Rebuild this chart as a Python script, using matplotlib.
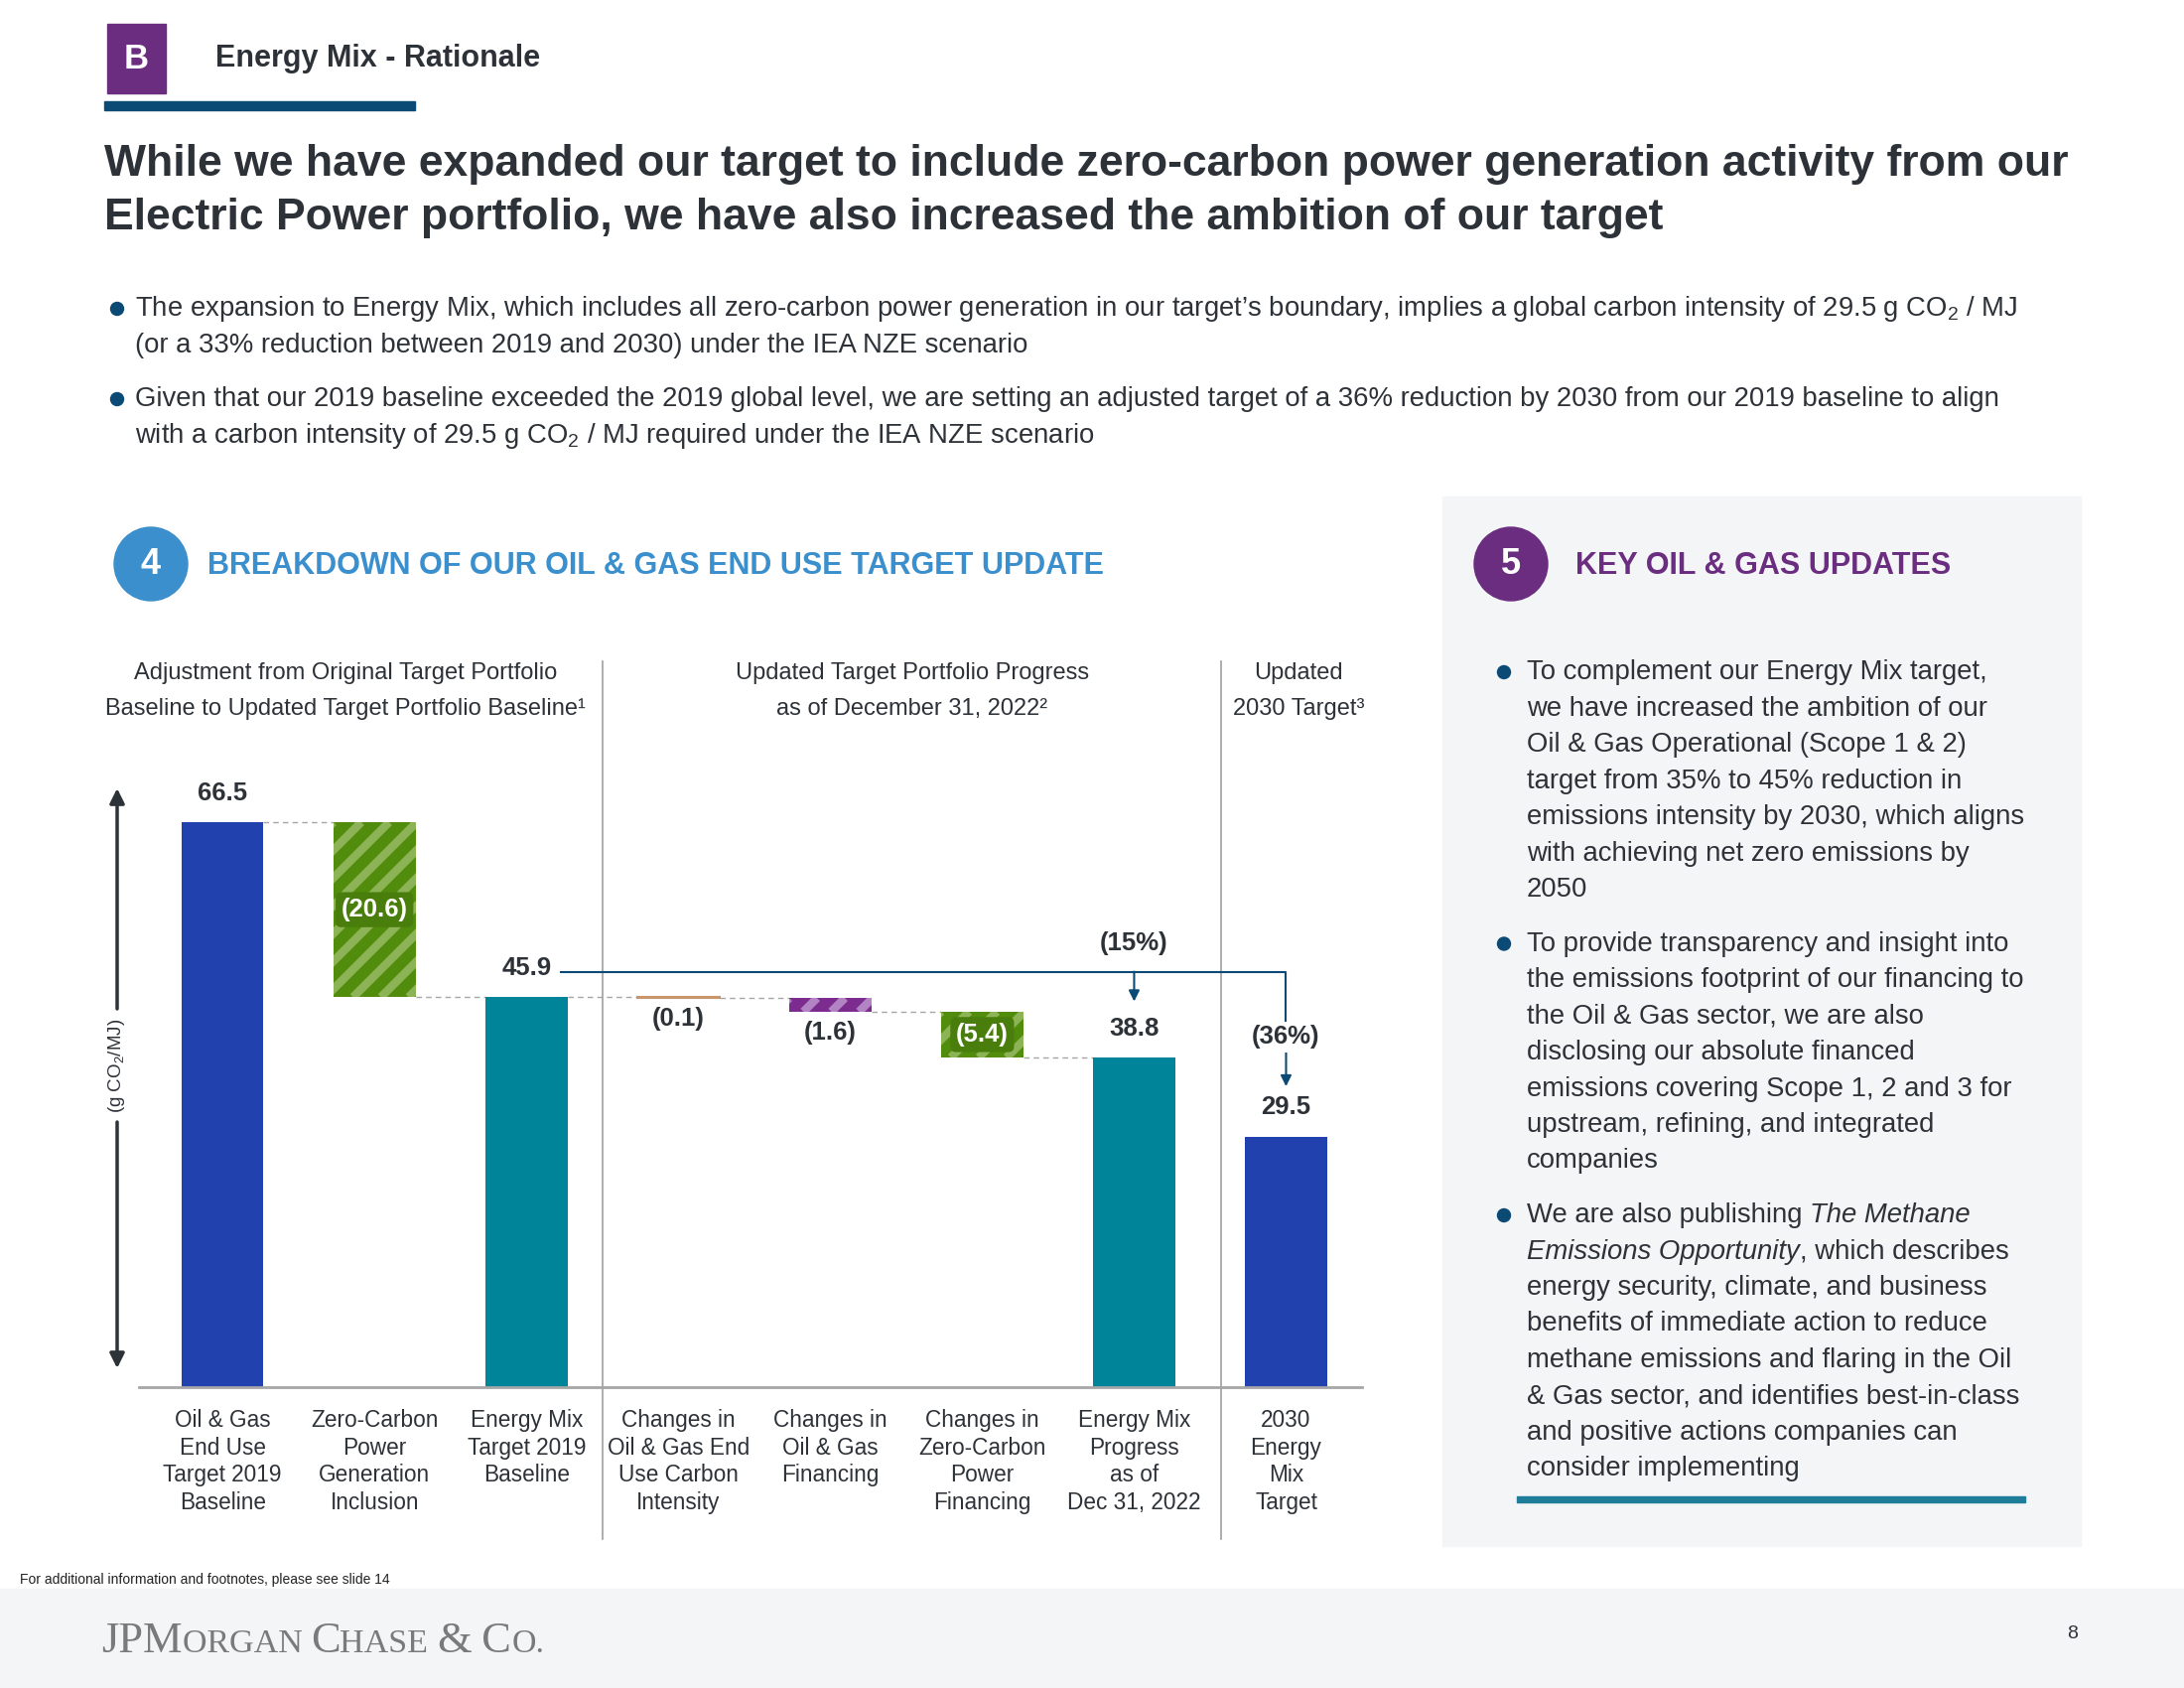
import numpy as np
import matplotlib
matplotlib.use('Agg')
import matplotlib.pyplot as plt
from matplotlib.patches import Rectangle, Circle

plt.rcParams['font.family'] = ['Liberation Sans', 'DejaVu Sans']
plt.rcParams['mathtext.fontset'] = 'custom'
plt.rcParams['mathtext.rm'] = 'Liberation Sans'
plt.rcParams['mathtext.it'] = 'Liberation Sans:italic'
plt.rcParams['mathtext.bf'] = 'Liberation Sans:bold'

# ---- data ----
categories = ['Oil & Gas\nEnd Use\nTarget 2019\nBaseline',
              'Zero-Carbon\nPower\nGeneration\nInclusion',
              'Energy Mix\nTarget 2019\nBaseline',
              'Changes in\nOil & Gas End\nUse Carbon\nIntensity',
              'Changes in\nOil & Gas\nFinancing',
              'Changes in\nZero-Carbon\nPower\nFinancing',
              'Energy Mix\nProgress\nas of\nDec 31, 2022',
              '2030\nEnergy\nMix\nTarget']
values = [66.5, -20.6, 45.9, -0.1, -1.6, -5.4, 38.8, 29.5]
kinds = ['total', 'delta', 'total', 'delta', 'delta', 'delta', 'total', 'total']
value_labels = ['66.5', '(20.6)', '45.9', '(0.1)', '(1.6)', '(5.4)', '38.8', '29.5']
progress_pct = '(15%)'
target_pct = '(36%)'
group_titles = [['Adjustment from Original Target Portfolio',
                 'Baseline to Updated Target Portfolio Baseline\u00b9'],
                ['Updated Target Portfolio Progress',
                 'as of December 31, 2022\u00b2'],
                ['Updated', '2030 Target\u00b3']]
left_bullets = [
    ['The expansion to Energy Mix, which includes all zero-carbon power generation in our target\u2019s boundary, implies a global carbon intensity of 29.5 g CO$_2$ / MJ',
     '(or a 33% reduction between 2019 and 2030) under the IEA NZE scenario'],
    ['Given that our 2019 baseline exceeded the 2019 global level, we are setting an adjusted target of a 36% reduction by 2030 from our 2019 baseline to align',
     'with a carbon intensity of 29.5 g CO$_2$ / MJ required under the IEA NZE scenario'],
]
right_bullets = [
    ['To complement our Energy Mix target,',
     'we have increased the ambition of our',
     'Oil & Gas Operational (Scope 1 & 2)',
     'target from 35% to 45% reduction in',
     'emissions intensity by 2030, which aligns',
     'with achieving net zero emissions by',
     '2050'],
    ['To provide transparency and insight into',
     'the emissions footprint of our financing to',
     'the Oil & Gas sector, we are also',
     'disclosing our absolute financed',
     'emissions covering Scope 1, 2 and 3 for',
     'upstream, refining, and integrated',
     'companies'],
    [[('We are also publishing ', 'normal'), ('The Methane', 'italic')],
     [('Emissions Opportunity', 'italic'), (', which describes', 'normal')],
     'energy security, climate, and business',
     'benefits of immediate action to reduce',
     'methane emissions and flaring in the Oil',
     '& Gas sector, and identifies best-in-class',
     'and positive actions companies can',
     'consider implementing'],
]

# ---- styles ----
DARK = '#2d3238'
NAVY = '#0b4a75'
BLUE = '#2141ae'
TEAL = '#00849a'
GREEN = '#528c0c'
GREEN_L = '#8cb356'
PURPLE = '#6b2d7f'
SKY = '#3a8fcc'
bar_face = [BLUE, GREEN, TEAL, '#c9956b', '#7b2c8e', GREEN, TEAL, BLUE]
bar_stripe = [None, GREEN_L, None, None, '#b384c3', GREEN_L, None, None]

W, H = 2200, 1700
fig = plt.figure(figsize=(22, 17), dpi=100)
bg = fig.add_axes([0, 0, 1, 1], zorder=0)
bg.set_xlim(0, W)
bg.set_ylim(H, 0)
bg.axis('off')
renderer = fig.canvas.get_renderer()


def runs(x, y, parts, **kw):
    # draw text pieces one after another on one line
    for txt, style in parts:
        t = bg.text(x, y, txt, style=style, va='center', ha='left', **kw)
        x += t.get_window_extent(renderer).width


# header
bg.add_patch(Rectangle((108, 24), 59, 70, color=PURPLE))
bg.text(137.5, 59, 'B', color='white', fontsize=25, fontweight='bold', ha='center', va='center')
bg.text(217, 59, 'Energy Mix - Rationale', color=DARK, fontsize=22, fontweight='bold', va='center')
bg.add_patch(Rectangle((105, 102), 313, 9, color=NAVY))
bg.text(105, 165, 'While we have expanded our target to include zero-carbon power generation activity from our',
        color=DARK, fontsize=32, fontweight='bold', va='center')
bg.text(105, 219, 'Electric Power portfolio, we have also increased the ambition of our target',
        color=DARK, fontsize=32, fontweight='bold', va='center')

y = 311
for b in left_bullets:
    bg.add_patch(Circle((118, y), 6.5, color=NAVY))
    for line in b:
        bg.text(136, y, line, color=DARK, fontsize=19.8, va='center')
        y += 37
    y += 17

# section titles
bg.add_patch(Circle((152, 568), 37, color=SKY))
bg.text(152, 568, '4', color='white', fontsize=26, fontweight='bold', ha='center', va='center')
bg.text(209, 570, 'BREAKDOWN OF OUR OIL & GAS END USE TARGET UPDATE', color=SKY,
        fontsize=22, fontweight='bold', va='center')

bg.add_patch(Rectangle((1453, 500), 643, 1057, color='#f4f5f7'))
bg.add_patch(Circle((1522, 568), 37, color=PURPLE))
bg.text(1522, 568, '5', color='white', fontsize=26, fontweight='bold', ha='center', va='center')
bg.text(1587, 570, 'KEY OIL & GAS UPDATES', color=PURPLE, fontsize=22, fontweight='bold', va='center')

y = 677
for b in right_bullets:
    bg.add_patch(Circle((1515, y), 6.5, color=NAVY))
    for line in b:
        if isinstance(line, list):
            runs(1538, y, line, color=DARK, fontsize=19.8)
        else:
            bg.text(1538, y, line, color=DARK, fontsize=19.8, va='center')
        y += 36.5
    y += 18
bg.add_patch(Rectangle((1528, 1507), 512, 6, color='#1f7d9a'))

# group headers over the chart
for (l1, l2), cx in zip(group_titles, [348, 919, 1308]):
    bg.text(cx, 678, l1, color=DARK, fontsize=17, ha='center', va='center')
    bg.text(cx, 714, l2, color=DARK, fontsize=17, ha='center', va='center')

# y axis arrow
arrow_kw = dict(arrowstyle='-|>', color=DARK, lw=2.5, mutation_scale=22, shrinkA=0, shrinkB=0)
bg.annotate('', xy=(118, 794), xytext=(118, 1016), arrowprops=arrow_kw)
bg.annotate('', xy=(118, 1378), xytext=(118, 1130), arrowprops=arrow_kw)
bg.text(118, 1073, '(g CO$_2$/MJ)', rotation=90, color=DARK, fontsize=13.5,
        ha='center', va='center')

# footer
bg.text(20, 1591, 'For additional information and footnotes, please see slide 14',
        color='#222222', fontsize=10, va='center')
bg.add_patch(Rectangle((0, 1600), W, 100, color='#f4f5f7'))
x = 102
for txt, sz in [('JPM', 32), ('ORGAN ', 24.5), ('C', 32), ('HASE ', 24.5), ('&', 32), (' C', 32), ('O.', 24.5)]:
    t = bg.text(x, 1664, txt, family='Liberation Serif', fontsize=sz, color='#7a7a7a', va='baseline')
    x += t.get_window_extent(renderer).width
bg.text(2088, 1646, '8', color=DARK, fontsize=14, ha='center', va='center')

# ---- waterfall chart ----
ax_left, ax_bot = 140 / W, 1 - 1397 / H
ax_w, ax_h = 1232 / W, 697 / H
ax = fig.add_axes([ax_left, ax_bot, ax_w, ax_h], zorder=1)
ax.patch.set_alpha(0)
xlim = (-0.55, 7.5)
ylim = (0, 697 / 8.556)
ax.set_xlim(*xlim)
ax.set_ylim(*ylim)
for s in ['top', 'right', 'left']:
    ax.spines[s].set_visible(False)
ax.spines['bottom'].set_color('#a6a6a6')
ax.spines['bottom'].set_linewidth(2)
ax.set_yticks([])

bottoms, heights = [], []
level = 0
for v, k in zip(values, kinds):
    if k == 'total':
        bottoms.append(0)
        heights.append(v)
        level = v
    else:
        level += v
        bottoms.append(level)
        heights.append(-v)

xs = np.arange(len(values))
bw = 0.54
bars = ax.bar(xs, heights, bottom=bottoms, width=bw, color=bar_face, zorder=2)
bars[3].set_edgecolor(bar_face[3])
bars[3].set_linewidth(1.5)

# diagonal stripes clipped to bars
px_x = W * ax_w / (xlim[1] - xlim[0])
px_y = H * ax_h / (ylim[1] - ylim[0])
k = px_x / px_y
period = 28 / px_x
for b, sc in zip(bars, bar_stripe):
    if sc is None:
        continue
    x0, y0, w, h = b.get_x(), b.get_y(), b.get_width(), b.get_height()
    span = h / k
    for c in np.arange(x0 - span - period, x0 + w + period, period):
        ln, = ax.plot([c, c + span], [y0, y0 + h], color=sc, lw=6, zorder=3,
                      solid_capstyle='butt')
        ln.set_clip_path(b)

# dashed connectors
for i in range(6):
    lv = heights[i] if kinds[i] == 'total' else bottoms[i]
    ax.plot([i + bw / 2, i + 1 - bw / 2], [lv, lv], color='#a6a6a6', lw=1,
            ls=(0, (4, 3)), zorder=1)

# value labels
FS = 18.5
for i, (lab, k_) in enumerate(zip(value_labels, kinds)):
    top = bottoms[i] + heights[i]
    if k_ == 'total':
        ax.annotate(lab, (i, top), xytext=(0, 21), textcoords='offset points',
                    ha='center', va='center', fontsize=FS, fontweight='bold', color=DARK)
    elif heights[i] > 4:
        ax.text(i, bottoms[i] + heights[i] / 2, lab, ha='center', va='center', fontsize=FS,
                fontweight='bold', color='white', zorder=5,
                bbox=dict(boxstyle='round,pad=0.22', fc='#4a7e0c', ec='none'))
    else:
        ax.annotate(lab, (i, bottoms[i]), xytext=(0, -15), textcoords='offset points',
                    ha='center', va='center', fontsize=FS, fontweight='bold', color=DARK)

# category labels
ax.set_xticks(xs)
ax.set_xticklabels(categories, fontsize=16.3, color=DARK, linespacing=1.25)
ax.tick_params(axis='x', length=0, pad=16)

# separators between groups
for sx in [2.5, 6.57]:
    ax.plot([sx, sx], [-0.22, 1.049], transform=ax.get_xaxis_transform(), color='#a0a0a0',
            lw=1.2, clip_on=False)

# reduction bracket
yb = heights[2] + 3.0
ax.plot([2.23, 7, 7], [yb, yb, heights[7] + 12], color=NAVY, lw=1.5, zorder=4)
akw = dict(arrowstyle='-|>', color=NAVY, lw=1.5, mutation_scale=16, shrinkA=0, shrinkB=0)
ax.annotate('', xy=(6, heights[6] + 6.6), xytext=(6, yb), arrowprops=akw)
ax.annotate('', xy=(7, heights[7] + 5.9), xytext=(7, heights[7] + 12.5), arrowprops=akw)
ax.text(6, yb + 3.3, progress_pct, ha='center', va='center', fontsize=FS,
        fontweight='bold', color=DARK)
ax.text(7, heights[7] + 11.7, target_pct, ha='center', va='center', fontsize=FS,
        fontweight='bold', color=DARK, zorder=5,
        bbox=dict(boxstyle='square,pad=0.15', fc='white', ec='none'))

fig.savefig('out.png', dpi=100, facecolor='white')
